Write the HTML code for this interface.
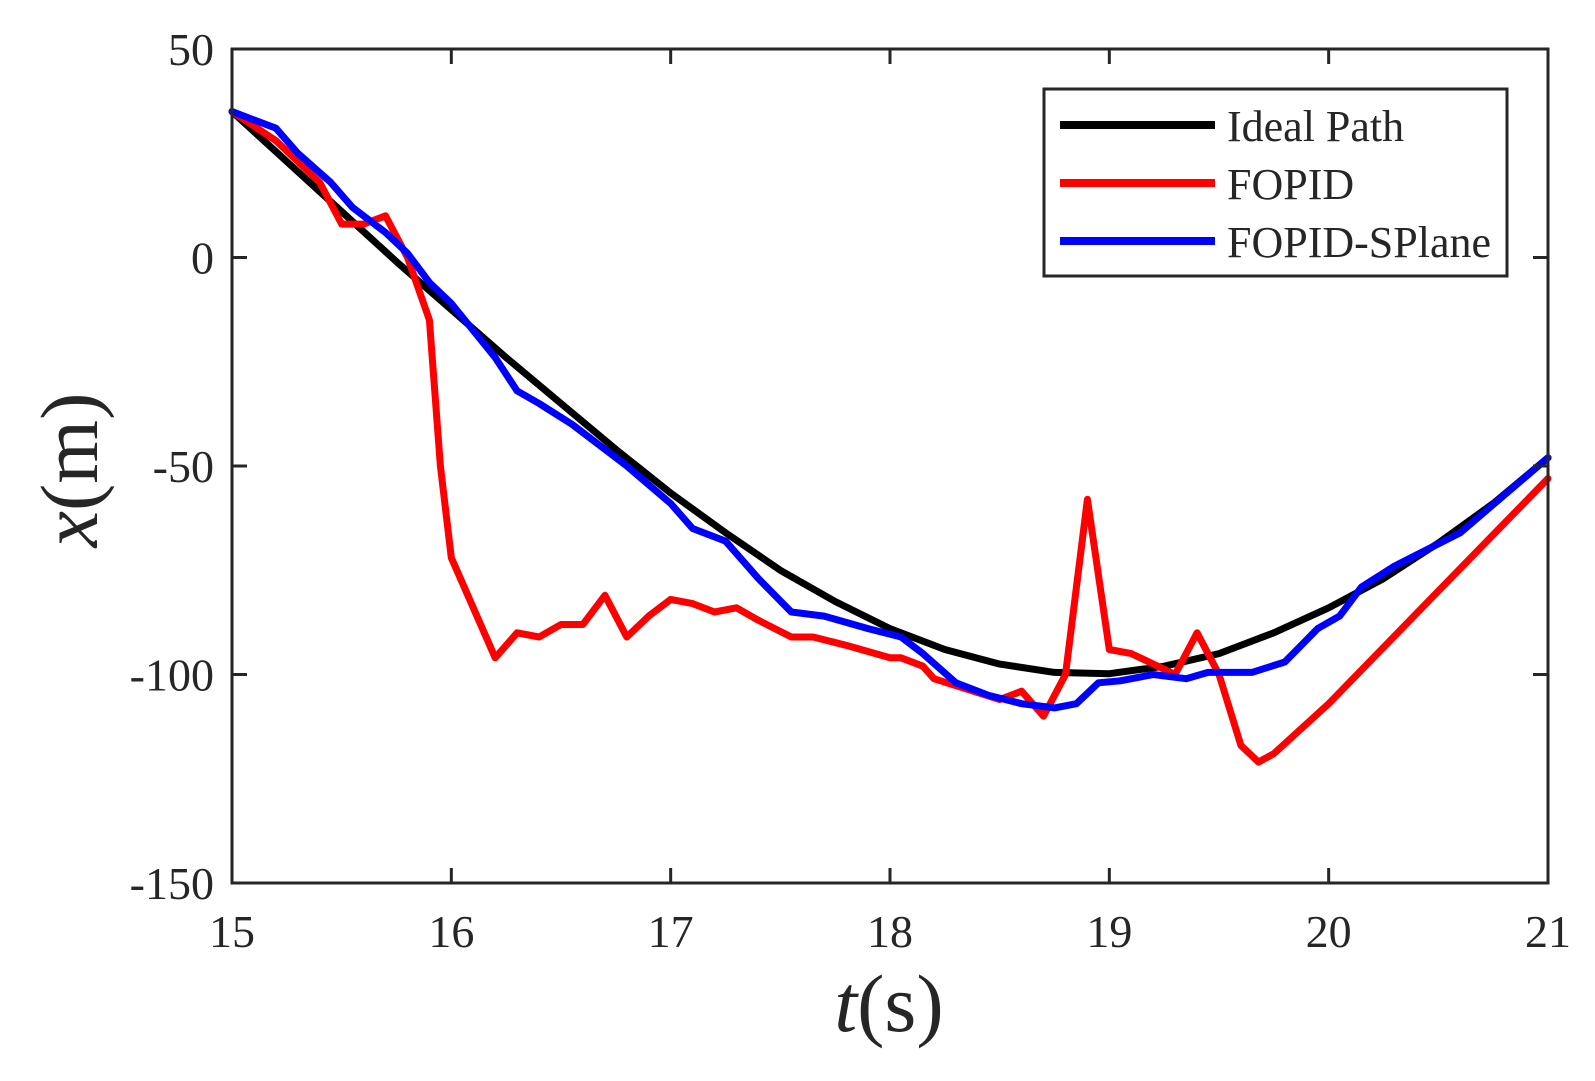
<!DOCTYPE html>
<html><head><meta charset="utf-8"><style>
body{margin:0;background:#fff}
svg text{font-family:"Liberation Serif",serif;fill:#262626}
</style></head><body>
<svg id="chart" width="1595" height="1076" xmlns="http://www.w3.org/2000/svg">
<rect x="232" y="49" width="1316" height="834" fill="#fff"/>
<g id="series"></g>
<rect x="232" y="49" width="1316" height="834" fill="none" stroke="#262626" stroke-width="3"/>
<g id="ticks"></g>
<text x="889" y="1031" font-size="82" text-anchor="middle"><tspan font-style="italic">t</tspan>(s)</text>
<text transform="translate(97,470) rotate(-90)" font-size="82" text-anchor="middle"><tspan font-style="italic">x</tspan>(m)</text>
<g>
<rect x="1044" y="89" width="463" height="187" fill="#fff" stroke="#262626" stroke-width="3"/>
<line x1="1060" y1="125" x2="1215" y2="125" stroke="#000" stroke-width="8"/>
<text x="1227" y="141" font-size="44" fill="#000">Ideal Path</text>
<line x1="1060" y1="183" x2="1215" y2="183" stroke="#f00" stroke-width="8"/>
<text x="1227" y="199" font-size="44">FOPID</text>
<line x1="1060" y1="241" x2="1215" y2="241" stroke="#00f" stroke-width="8"/>
<text x="1227" y="257" font-size="44">FOPID-SPlane</text>
</g>
</svg>
<script>
const xTicks=[15,16,17,18,19,20,21];
const yTicks=[50,0,-50,-100,-150];
const idealT=[15,15.25,15.5,15.75,16,16.25,16.5,16.75,17,17.25,17.5,17.75,18,18.25,18.5,18.75,19,19.25,19.5,19.75,20,20.25,20.5,20.75,21];
const idealX=[35,23,11,-1,-12.5,-24,-35,-46,-56.5,-66,-75,-82.5,-89,-94,-97.5,-99.5,-99.8,-98,-95,-90,-84,-77,-68.5,-59,-48];
const fopidT=[15,15.2,15.4,15.5,15.6,15.7,15.8,15.9,15.95,16,16.1,16.2,16.3,16.4,16.5,16.6,16.7,16.8,16.9,17,17.1,17.2,17.3,17.4,17.55,17.65,17.8,18,18.05,18.15,18.2,18.5,18.6,18.7,18.8,18.9,19,19.1,19.3,19.4,19.5,19.6,19.68,19.75,20,20.5,21];
const fopidX=[35,28,18,8,8,10,0,-15,-50,-72,-84,-96,-90,-91,-88,-88,-81,-91,-86,-82,-83,-85,-84,-87,-91,-91,-93,-96,-96,-98,-101,-106,-104,-110,-100,-58,-94,-95,-100,-90,-100,-117,-121,-119,-107,-80,-53];
const splaneT=[15,15.1,15.2,15.3,15.45,15.55,15.7,15.8,15.9,16,16.2,16.3,16.4,16.55,16.7,16.8,17,17.1,17.25,17.4,17.55,17.7,17.9,18.05,18.15,18.3,18.45,18.6,18.75,18.85,18.95,19.05,19.2,19.35,19.45,19.65,19.8,19.95,20.05,20.15,20.3,20.6,21];
const splaneX=[35,33,31,25,18,12,6,1,-6,-11,-24,-32,-35,-40,-46,-50,-59,-65,-68,-77,-85,-86,-89,-91,-95,-102,-105,-107,-108,-107,-102,-101.5,-100,-101,-99.5,-99.5,-97,-89,-86,-79,-74,-66,-48];
const X0=232,X1=1548,Y0=883,Y1=49;
function sx(t){return X0+(t-15)/(21-15)*(X1-X0);}
function sy(v){return Y0-(v+150)/200*(Y0-Y1);}
const NS='http://www.w3.org/2000/svg';
const ticks=document.getElementById('ticks');
function mk(tag,attrs,parent){const e=document.createElementNS(NS,tag);for(const k in attrs)e.setAttribute(k,attrs[k]);parent.appendChild(e);return e;}
xTicks.forEach(t=>{
  const x=sx(t);
  let l=mk('line',{x1:x,y1:Y0,x2:x,y2:Y0-15,stroke:'#262626','stroke-width':3},ticks);
  
  
  l=mk('line',{x1:x,y1:Y1,x2:x,y2:Y1+15,stroke:'#262626','stroke-width':3},ticks);
  
  
  const tx=mk('text',{x:x,y:947,'font-size':46,'text-anchor':'middle'},ticks);
  tx.textContent=t;
  
  
});
yTicks.forEach(v=>{
  const y=sy(v);
  let l=mk('line',{x1:X0,y1:y,x2:X0+15,y2:y,stroke:'#262626','stroke-width':3},ticks);
  
  
  l=mk('line',{x1:X1,y1:y,x2:X1-15,y2:y,stroke:'#262626','stroke-width':3},ticks);
  
  
  const tx=mk('text',{x:214,y:y+16,'font-size':46,'text-anchor':'end'},ticks);
  tx.textContent=v;
  
  
});
const series=document.getElementById('series');
function line(T,V,color,name){
  const d=T.map((t,i)=>(i?'L':'M')+sx(t).toFixed(1)+' '+sy(V[i]).toFixed(1)).join(' ');
  const p=mk('path',{d:d,fill:'none',stroke:color,'stroke-width':7,'stroke-linejoin':'round','stroke-linecap':'round'},series);
  
  
}
line(idealT,idealX,'#000','ideal-path-line');
line(fopidT,fopidX,'#f00','fopid-line');
line(splaneT,splaneX,'#00f','fopid-splane-line');
</script>
</body></html>
